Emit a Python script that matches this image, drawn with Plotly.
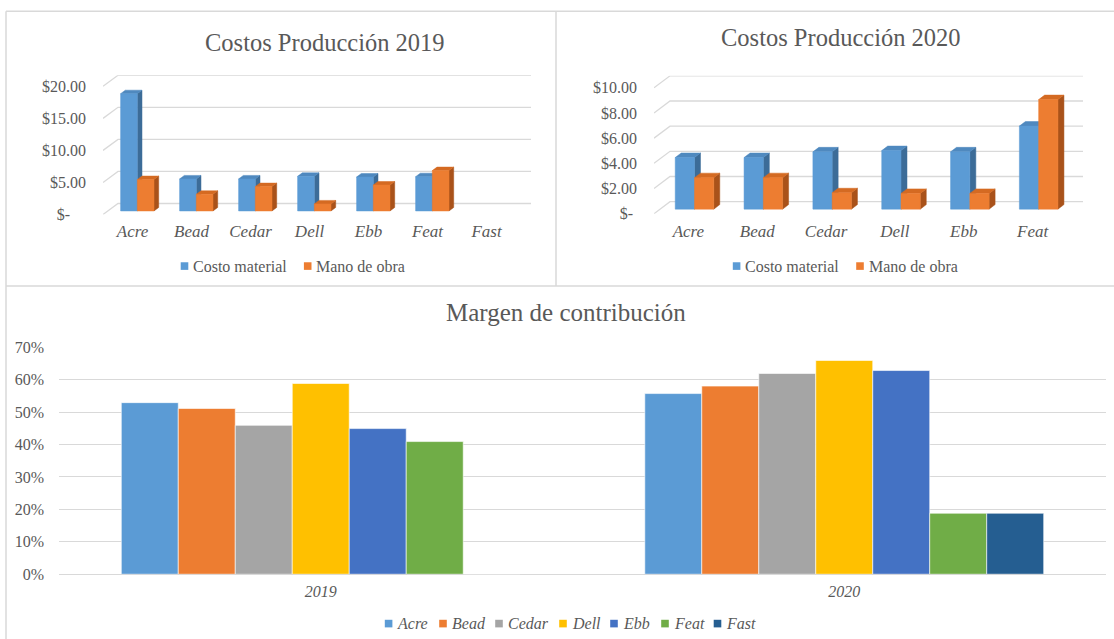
import plotly.graph_objects as go

# ---------------- data ----------------
cats_2019 = ["Acre", "Bead", "Cedar", "Dell", "Ebb", "Feat", "Fast"]
material_2019 = [18.3, 5.0, 5.0, 5.4, 5.3, 5.35, 0]
labor_2019 = [4.9, 2.6, 3.8, 1.1, 4.05, 6.3, 0]

cats_2020 = ["Acre", "Bead", "Cedar", "Dell", "Ebb", "Feat"]
material_2020 = [4.1, 4.1, 4.55, 4.65, 4.55, 6.6]
labor_2020 = [2.5, 2.5, 1.3, 1.25, 1.25, 8.7]

series_names = ["Costo material", "Mano de obra"]

years = ["2019", "2020"]
products = ["Acre", "Bead", "Cedar", "Dell", "Ebb", "Feat", "Fast"]
margin_2019 = [0.529, 0.511, 0.459, 0.588, 0.449, 0.409, 0]
margin_2020 = [0.557, 0.580, 0.619, 0.659, 0.628, 0.188, 0.188]

ticks_2019 = [0, 5, 10, 15, 20]
ticks_2020 = [0, 2, 4, 6, 8, 10]
# --------------------------------------

W, H = 1114, 639
# vertical calibration of the rendered page (measured): shown_y = VS * y + VO
VS, VO = 0.972, 7.3
SERIF = "Liberation Serif"
TXT = "#595959"
GRID = "#d9d9d9"

BLUE = dict(front="#5B9BD5", top="#4F89BF", side="#3C6C98")
ORANGE = dict(front="#ED7D31", top="#D46A22", side="#A9521A")
PROD_COLORS = ["#5B9BD5", "#ED7D31", "#A5A5A5", "#FFC000", "#4472C4", "#70AD47", "#255E91"]


# helpers converting target pixel positions to paper fractions
def px(x):
    return x / W


def py(y):
    return 1 - ((y - VO) / VS) / H


def xdom(p0, p1):
    return [max(0, px(p0)), min(1, px(p1))]


def ydom(top, bottom):
    return [max(0, py(bottom)), min(1, py(top))]


fig = go.Figure()
annotations = []
shapes = []


def money(v, pad):
    return "$-" + "\u00a0" * pad if v == 0 else "${:.2f}".format(v)


def cost_chart(xa, ya, cats, mat, lab, ticks, front_left, back_right, depth_px,
               y_front0, px_per_unit, dy_px, bar_w, f, bdx_px, bdy_px, dash_pad):
    n = len(cats)
    unit = (back_right - depth_px - front_left) / n
    DX = depth_px / unit
    DY = dy_px / px_per_unit
    ymax = ticks[-1]
    top_px = y_front0 - (ymax + DY) * px_per_unit
    xr = [-0.5, n - 0.5 + DX]
    yr = [0, ymax + DY]
    # gridlines (back wall + floor diagonal) from tick values
    gx, gy = [], []
    for t in ticks:
        gx += [-0.5, -0.5 + DX, n - 0.5 + DX, None]
        gy += [t, t + DY, t + DY, None]
    fig.add_trace(go.Scatter(x=gx, y=gy, mode="lines", line=dict(color=GRID, width=1.3),
                             hoverinfo="skip", showlegend=False, xaxis=xa, yaxis=ya))
    sx, sy = f * DX, f * DY
    bdx, bdy = bdx_px / unit, bdy_px / px_per_unit
    for vals, col, side, nm in ((mat, BLUE, -1, series_names[0]), (lab, ORANGE, 0, series_names[1])):
        fx, fy, tx, ty, kx, ky = [], [], [], [], [], []
        for i, v in enumerate(vals):
            if not v:
                continue
            x0 = i + sx + (side * bar_w)
            x1 = x0 + bar_w
            fx += [x0, x1, x1, x0, x0, None]
            fy += [sy, sy, sy + v, sy + v, sy, None]
            kx += [x1, x1 + bdx, x1 + bdx, x1, x1, None]
            ky += [sy, sy + bdy, sy + v + bdy, sy + v, sy, None]
            tx += [x0, x1, x1 + bdx, x0 + bdx, x0, None]
            ty += [sy + v, sy + v, sy + v + bdy, sy + v + bdy, sy + v, None]
        for xs, ys, c in ((kx, ky, col["side"]), (tx, ty, col["top"]), (fx, fy, col["front"])):
            fig.add_trace(go.Scatter(x=xs, y=ys, mode="lines", fill="toself", fillcolor=c,
                                     line=dict(width=0.5, color=c), hoverinfo="skip", name=nm,
                                     showlegend=False, xaxis=xa, yaxis=ya))
    axx = dict(domain=xdom(front_left, back_right), range=xr, showgrid=False, zeroline=False,
               showline=False, ticks="", tickvals=list(range(n)), ticktext=cats,
               tickfont=dict(family=SERIF, size=17, color=TXT, style="italic"),
               ticklabelstandoff=5, fixedrange=True)
    axy = dict(domain=ydom(top_px, y_front0), range=yr, showgrid=False, zeroline=False,
               showline=False, ticks="", tickvals=ticks,
               ticktext=[money(t, dash_pad) for t in ticks],
               tickfont=dict(family=SERIF, size=16, color=TXT), ticklabelstandoff=16,
               fixedrange=True)
    return axx, axy


ax1x, ax1y = cost_chart("x", "y", cats_2019, material_2019, labor_2019, ticks_2019,
                        front_left=103, back_right=531, depth_px=15, y_front0=213.5,
                        px_per_unit=6.4, dy_px=11, bar_w=0.283, f=0.32, bdx_px=4.7,
                        bdy_px=3.5, dash_pad=4)
ax2x, ax2y = cost_chart("x2", "y2", cats_2020, material_2020, labor_2020, ticks_2020,
                        front_left=654, back_right=1083, depth_px=16, y_front0=212.7,
                        px_per_unit=12.57, dy_px=12, bar_w=0.28, f=0.38, bdx_px=6,
                        bdy_px=4.5, dash_pad=1)

# bottom clustered column chart
for i, p in enumerate(products):
    fig.add_trace(go.Bar(x=years, y=[margin_2019[i], margin_2020[i]], name=p,
                         marker=dict(color=PROD_COLORS[i], line=dict(color="white", width=0.6)),
                         xaxis="x3", yaxis="y3", showlegend=False, hoverinfo="skip"))


# legends (Excel style: small square right next to the text)
def legend_row(names, colors, square_x, y, size, italic):
    for nm, c, sxp in zip(names, colors, square_x):
        shapes.append(dict(type="rect", xref="paper", yref="paper",
                           x0=px(sxp - 3.8), x1=px(sxp + 3.8), y0=py(y + 3.8), y1=py(y - 3.8),
                           fillcolor=c, line=dict(width=0)))
        annotations.append(dict(text=nm, x=px(sxp + 6.5), y=py(y), xref="paper", yref="paper",
                                xanchor="left", yanchor="middle", showarrow=False,
                                font=dict(family=SERIF, size=size, color=TXT,
                                          style="italic" if italic else "normal")))


legend_row(series_names, [BLUE["front"], ORANGE["front"]], [184.5, 307.7], 265, 16, False)
legend_row(series_names, [BLUE["front"], ORANGE["front"]], [736.6, 860], 265, 16, False)
legend_row(products, PROD_COLORS, [388.6, 443, 499, 563, 614, 665, 717.5], 622, 16, True)

for txt, x, y, s in (("Costos Producción 2019", 325, 42, 24.5),
                     ("Costos Producción 2020", 841, 37, 24.5),
                     ("Margen de contribución", 566, 311.5, 25)):
    annotations.append(dict(text=txt, x=px(x), y=py(y), xref="paper", yref="paper",
                            xanchor="center", yanchor="middle", showarrow=False,
                            font=dict(family=SERIF, size=s, color=TXT)))

for x0, y0, x1, y1 in ((6, 10.5, W, 10.5), (6, 10.5, 6, H + 20), (556, 10.5, 556, 285),
                       (6, 285, W, 285)):
    shapes.append(dict(type="line", xref="paper", yref="paper", x0=px(x0), x1=px(x1),
                       y0=py(y0), y1=py(y1), line=dict(color=GRID, width=1.5)))

fig.update_layout(
    width=W, height=H, margin=dict(l=0, r=0, t=0, b=0),
    paper_bgcolor="white", plot_bgcolor="rgba(0,0,0,0)",
    showlegend=False, barmode="group", bargap=0.238, bargroupgap=0,
    xaxis=ax1x, yaxis=ax1y, xaxis2=dict(ax2x, anchor="y2"), yaxis2=dict(ax2y, anchor="x2"),
    xaxis3=dict(domain=xdom(59, 1106), anchor="y3", showgrid=False, zeroline=False,
                showline=False, ticks="", ticklabelstandoff=6,
                tickfont=dict(family=SERIF, size=16, color=TXT, style="italic"), fixedrange=True),
    yaxis3=dict(domain=ydom(346, 572.7), anchor="x3", range=[0, 0.7], dtick=0.1,
                tickformat=".0%", showgrid=True, gridcolor=GRID, gridwidth=1.3,
                zeroline=True, zerolinecolor=GRID, zerolinewidth=1.3, showline=False,
                ticks="", ticklabelstandoff=14,
                tickfont=dict(family=SERIF, size=16, color=TXT), fixedrange=True),
    annotations=annotations,
    shapes=shapes,
)

fig.write_html("out.html", config={"displayModeBar": False},
               post_script="document.body.style.margin='0';"
                           "document.documentElement.style.overflow='hidden';")
